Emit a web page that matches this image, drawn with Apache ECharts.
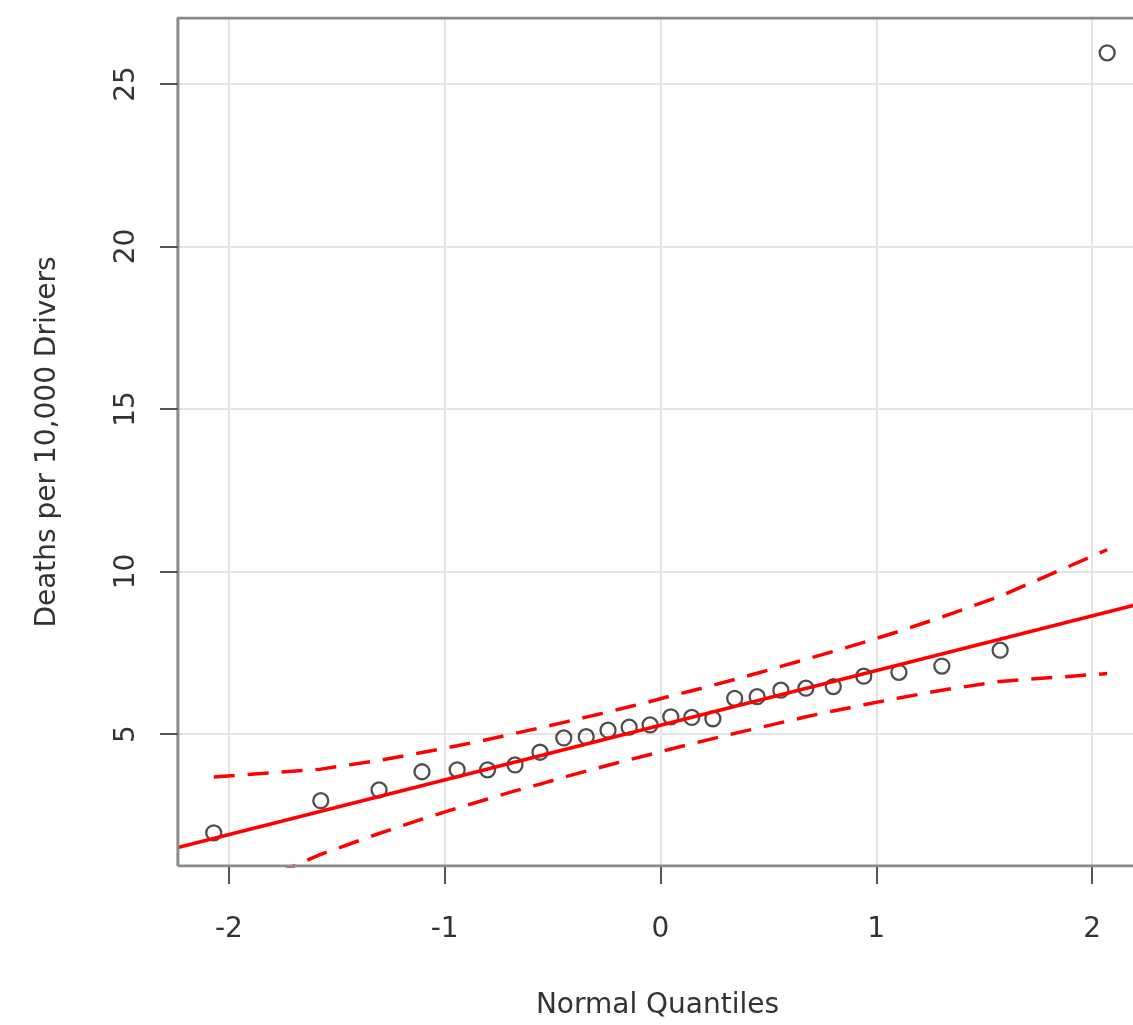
<!DOCTYPE html>
<html>
<head>
<meta charset="utf-8">
<script src="https://cdn.jsdelivr.net/npm/echarts@6/dist/echarts.min.js"></script>
<style>
  html, body { margin: 0; padding: 0; background: #ffffff; overflow: hidden; }
  /* plot frame runs past the right edge of the window */
  #chart { width: 1163px; height: 1025px; }
</style>
</head>
<body>
<div id="chart"></div>
<script>
// Theoretical normal quantiles for the 26 ordered observations
const normalQuantiles = [-2.070, -1.574, -1.304, -1.105, -0.942, -0.801, -0.674, -0.558, -0.448, -0.344,
  -0.243, -0.145, -0.048, 0.048, 0.145, 0.243, 0.344, 0.448, 0.558, 0.674,
  0.801, 0.942, 1.105, 1.304, 1.574, 2.070];

// Ordered sample: deaths per 10,000 drivers
const deaths = [1.96, 2.95, 3.28, 3.84, 3.90, 3.90, 4.05, 4.44, 4.88, 4.92,
  5.12, 5.21, 5.28, 5.53, 5.51, 5.47, 6.10, 6.15, 6.35, 6.41,
  6.46, 6.78, 6.90, 7.09, 7.58, 25.96];

// Pointwise 95% confidence envelope around the reference line
const envelopeUpper = [3.68, 3.92, 4.19, 4.43, 4.64, 4.83, 5.02, 5.19, 5.36, 5.52,
  5.68, 5.84, 6.00, 6.17, 6.33, 6.50, 6.68, 6.87, 7.08, 7.30,
  7.54, 7.82, 8.16, 8.60, 9.24, 10.67];
const envelopeLower = [-0.13, 1.30, 1.94, 2.38, 2.72, 3.00, 3.25, 3.46, 3.67, 3.86,
  4.04, 4.21, 4.37, 4.54, 4.70, 4.86, 5.02, 5.18, 5.35, 5.53,
  5.71, 5.90, 6.11, 6.35, 6.62, 6.86];

// Reference line end points (quartile fit)
const fitLineX = [-2.236, 2.236];
const fitLineY = [1.51, 9.03];

// Axis ranges and tick positions
const xRange = [-2.236, 2.236];
const yRange = [0.94, 27.03];
const xTicks = [-2, -1, 0, 1, 2];
const yTicks = [5, 10, 15, 20, 25];

// The grid starts one tick length left of the frame so the outward
// y ticks sit inside the drawing area (18 px at ~216 px per unit)
const xAxisMin = -2.319;

const pair = (xs, ys) => xs.map((x, i) => [x, ys[i]]);

const FONT = 'DejaVu Sans';
const TEXT = '#333333';
const FRAME = '#8a8a8a';
const TICK = '#555555';

const frameCorners = [
  [xRange[0], yRange[0]], [xRange[0], yRange[1]],
  [xRange[1], yRange[1]], [xRange[1], yRange[0]], [xRange[0], yRange[0]]
];

const chart = echarts.init(document.getElementById('chart'), null, { renderer: 'canvas' });

chart.setOption({
  animation: false,
  backgroundColor: '#ffffff',
  grid: {
    left: 160, top: 18, right: 20, bottom: 159,
    show: false
  },
  xAxis: {
    type: 'value',
    position: 'bottom',
    min: xAxisMin,
    max: xRange[1],
    name: 'Normal Quantiles',
    nameLocation: 'middle',
    nameGap: 126,
    nameTextStyle: { fontFamily: FONT, fontSize: 28, color: TEXT, padding: [0, 0, 0, 12] },
    axisLine: { show: false, onZero: false },
    axisTick: {
      show: true, length: 18, customValues: xTicks,
      lineStyle: { color: TICK, width: 2 }
    },
    axisLabel: {
      customValues: xTicks,
      margin: 50,
      fontFamily: FONT, fontSize: 28, color: TEXT
    },
    splitLine: { show: true, lineStyle: { color: '#e4e4e4', width: 2 } }
  },
  yAxis: {
    type: 'value',
    min: yRange[0],
    max: yRange[1],
    name: 'Deaths per 10,000 Drivers',
    nameLocation: 'middle',
    nameRotate: 90,
    nameGap: 98,
    nameTextStyle: { fontFamily: FONT, fontSize: 28, color: TEXT },
    axisLine: { show: false, onZero: false },
    axisTick: { show: false, customValues: yTicks },
    axisLabel: {
      customValues: yTicks,
      rotate: 90,
      margin: 19,
      fontFamily: FONT, fontSize: 28, color: TEXT
    },
    splitLine: { show: true, lineStyle: { color: '#e4e4e4', width: 2 } }
  },
  series: [
    {
      name: 'observations',
      type: 'scatter',
      data: pair(normalQuantiles, deaths),
      symbol: 'circle',
      symbolSize: 15,
      itemStyle: { color: 'rgba(0,0,0,0)', borderColor: '#222222', borderWidth: 2.3 },
      z: 2
    },
    {
      name: 'reference line',
      type: 'line',
      data: pair(fitLineX, fitLineY),
      showSymbol: false,
      symbol: 'none',
      lineStyle: { color: '#ff0000', width: 3.5 },
      z: 3
    },
    {
      name: 'upper envelope',
      type: 'line',
      data: pair(normalQuantiles, envelopeUpper),
      symbol: 'none',
      clip: true,
      lineStyle: { color: '#ff0000', width: 3.5, type: [21, 13] },
      z: 3
    },
    {
      name: 'lower envelope',
      type: 'line',
      data: pair(normalQuantiles, envelopeLower),
      symbol: 'none',
      clip: true,
      lineStyle: { color: '#ff0000', width: 3.5, type: [21, 13] },
      z: 3
    },
    {
      // plot frame plus the outward tick marks of the y axis
      name: 'frame',
      type: 'line',
      data: frameCorners,
      symbol: 'none',
      silent: true,
      lineStyle: { color: FRAME, width: 3 },
      z: 4,
      markLine: {
        silent: true,
        symbol: ['none', 'none'],
        label: { show: false },
        lineStyle: { color: TICK, width: 2, type: 'solid' },
        data: yTicks.map(v => [{ coord: [xAxisMin, v] }, { coord: [xRange[0], v] }])
      }
    }
  ]
});
</script>
</body>
</html>
